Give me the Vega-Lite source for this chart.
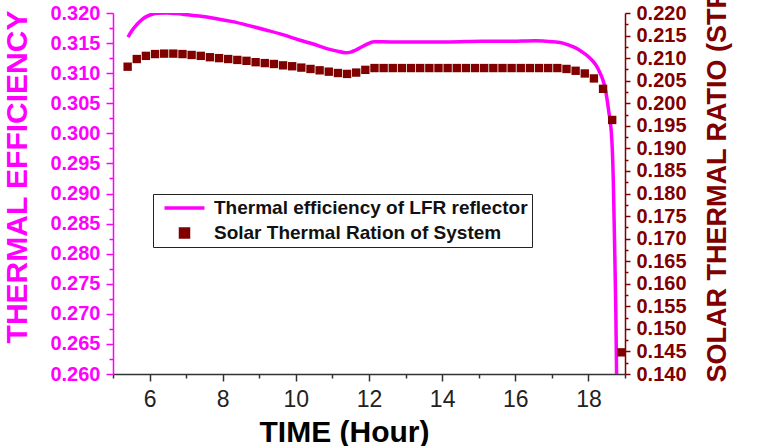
{
  "$schema": "https://vega.github.io/schema/vega-lite/v6.json",
  "width": 512,
  "height": 361,
  "autosize": {"type": "none"},
  "padding": {"left": 113, "top": 13, "right": 147, "bottom": 72},
  "background": "white",
  "config": {
    "view": {"stroke": null},
    "font": "Liberation Sans",
    "axis": {"grid": false, "labelFlush": false}
  },
  "datasets": {
    "efficiency": [
      {"time": 5.41, "eff": 0.3160, "series": "Thermal efficiency of LFR reflector"},
      {"time": 5.52, "eff": 0.3171, "series": "Thermal efficiency of LFR reflector"},
      {"time": 5.64, "eff": 0.3180, "series": "Thermal efficiency of LFR reflector"},
      {"time": 5.77, "eff": 0.3188, "series": "Thermal efficiency of LFR reflector"},
      {"time": 5.91, "eff": 0.3194, "series": "Thermal efficiency of LFR reflector"},
      {"time": 6.07, "eff": 0.3198, "series": "Thermal efficiency of LFR reflector"},
      {"time": 6.23, "eff": 0.31995, "series": "Thermal efficiency of LFR reflector"},
      {"time": 6.48, "eff": 0.3200, "series": "Thermal efficiency of LFR reflector"},
      {"time": 6.73, "eff": 0.3199, "series": "Thermal efficiency of LFR reflector"},
      {"time": 7.05, "eff": 0.3197, "series": "Thermal efficiency of LFR reflector"},
      {"time": 7.36, "eff": 0.3195, "series": "Thermal efficiency of LFR reflector"},
      {"time": 7.8, "eff": 0.3191, "series": "Thermal efficiency of LFR reflector"},
      {"time": 8.27, "eff": 0.31856, "series": "Thermal efficiency of LFR reflector"},
      {"time": 8.72, "eff": 0.3179, "series": "Thermal efficiency of LFR reflector"},
      {"time": 9.18, "eff": 0.31717, "series": "Thermal efficiency of LFR reflector"},
      {"time": 9.64, "eff": 0.3164, "series": "Thermal efficiency of LFR reflector"},
      {"time": 10.09, "eff": 0.31551, "series": "Thermal efficiency of LFR reflector"},
      {"time": 10.5, "eff": 0.3148, "series": "Thermal efficiency of LFR reflector"},
      {"time": 10.82, "eff": 0.31413, "series": "Thermal efficiency of LFR reflector"},
      {"time": 11.1, "eff": 0.3137, "series": "Thermal efficiency of LFR reflector"},
      {"time": 11.36, "eff": 0.3134, "series": "Thermal efficiency of LFR reflector"},
      {"time": 11.5, "eff": 0.3135, "series": "Thermal efficiency of LFR reflector"},
      {"time": 11.64, "eff": 0.31385, "series": "Thermal efficiency of LFR reflector"},
      {"time": 11.78, "eff": 0.3143, "series": "Thermal efficiency of LFR reflector"},
      {"time": 11.91, "eff": 0.3147, "series": "Thermal efficiency of LFR reflector"},
      {"time": 12.14, "eff": 0.31523, "series": "Thermal efficiency of LFR reflector"},
      {"time": 12.6, "eff": 0.3152, "series": "Thermal efficiency of LFR reflector"},
      {"time": 13.27, "eff": 0.3152, "series": "Thermal efficiency of LFR reflector"},
      {"time": 14.2, "eff": 0.3152, "series": "Thermal efficiency of LFR reflector"},
      {"time": 15.09, "eff": 0.3153, "series": "Thermal efficiency of LFR reflector"},
      {"time": 15.8, "eff": 0.3153, "series": "Thermal efficiency of LFR reflector"},
      {"time": 16.55, "eff": 0.3154, "series": "Thermal efficiency of LFR reflector"},
      {"time": 16.85, "eff": 0.3153, "series": "Thermal efficiency of LFR reflector"},
      {"time": 17.09, "eff": 0.3152, "series": "Thermal efficiency of LFR reflector"},
      {"time": 17.3, "eff": 0.3150, "series": "Thermal efficiency of LFR reflector"},
      {"time": 17.45, "eff": 0.3147, "series": "Thermal efficiency of LFR reflector"},
      {"time": 17.65, "eff": 0.3142, "series": "Thermal efficiency of LFR reflector"},
      {"time": 17.82, "eff": 0.31357, "series": "Thermal efficiency of LFR reflector"},
      {"time": 17.97, "eff": 0.3129, "series": "Thermal efficiency of LFR reflector"},
      {"time": 18.09, "eff": 0.3122, "series": "Thermal efficiency of LFR reflector"},
      {"time": 18.22, "eff": 0.3112, "series": "Thermal efficiency of LFR reflector"},
      {"time": 18.32, "eff": 0.3100, "series": "Thermal efficiency of LFR reflector"},
      {"time": 18.4, "eff": 0.3088, "series": "Thermal efficiency of LFR reflector"},
      {"time": 18.46, "eff": 0.3074, "series": "Thermal efficiency of LFR reflector"},
      {"time": 18.55, "eff": 0.3039, "series": "Thermal efficiency of LFR reflector"},
      {"time": 18.64, "eff": 0.2989, "series": "Thermal efficiency of LFR reflector"},
      {"time": 18.68, "eff": 0.2922, "series": "Thermal efficiency of LFR reflector"},
      {"time": 18.72, "eff": 0.2800, "series": "Thermal efficiency of LFR reflector"},
      {"time": 18.75, "eff": 0.2700, "series": "Thermal efficiency of LFR reflector"},
      {"time": 18.77, "eff": 0.2600, "series": "Thermal efficiency of LFR reflector"}
    ],
    "ratio": [
      {"time": 5.4, "str": 0.2081, "series": "Solar Thermal Ration of System"},
      {"time": 5.65, "str": 0.2098, "series": "Solar Thermal Ration of System"},
      {"time": 5.9, "str": 0.2105, "series": "Solar Thermal Ration of System"},
      {"time": 6.15, "str": 0.2109, "series": "Solar Thermal Ration of System"},
      {"time": 6.4, "str": 0.2110, "series": "Solar Thermal Ration of System"},
      {"time": 6.65, "str": 0.2110, "series": "Solar Thermal Ration of System"},
      {"time": 6.9, "str": 0.2109, "series": "Solar Thermal Ration of System"},
      {"time": 7.15, "str": 0.2107, "series": "Solar Thermal Ration of System"},
      {"time": 7.4, "str": 0.2105, "series": "Solar Thermal Ration of System"},
      {"time": 7.65, "str": 0.2102, "series": "Solar Thermal Ration of System"},
      {"time": 7.9, "str": 0.2100, "series": "Solar Thermal Ration of System"},
      {"time": 8.15, "str": 0.2098, "series": "Solar Thermal Ration of System"},
      {"time": 8.4, "str": 0.2096, "series": "Solar Thermal Ration of System"},
      {"time": 8.65, "str": 0.2094, "series": "Solar Thermal Ration of System"},
      {"time": 8.9, "str": 0.2091, "series": "Solar Thermal Ration of System"},
      {"time": 9.15, "str": 0.2089, "series": "Solar Thermal Ration of System"},
      {"time": 9.4, "str": 0.2087, "series": "Solar Thermal Ration of System"},
      {"time": 9.65, "str": 0.2084, "series": "Solar Thermal Ration of System"},
      {"time": 9.9, "str": 0.2082, "series": "Solar Thermal Ration of System"},
      {"time": 10.15, "str": 0.2079, "series": "Solar Thermal Ration of System"},
      {"time": 10.4, "str": 0.2076, "series": "Solar Thermal Ration of System"},
      {"time": 10.65, "str": 0.2073, "series": "Solar Thermal Ration of System"},
      {"time": 10.9, "str": 0.2070, "series": "Solar Thermal Ration of System"},
      {"time": 11.15, "str": 0.2067, "series": "Solar Thermal Ration of System"},
      {"time": 11.4, "str": 0.2065, "series": "Solar Thermal Ration of System"},
      {"time": 11.65, "str": 0.2068, "series": "Solar Thermal Ration of System"},
      {"time": 11.9, "str": 0.2074, "series": "Solar Thermal Ration of System"},
      {"time": 12.15, "str": 0.2078, "series": "Solar Thermal Ration of System"},
      {"time": 12.4, "str": 0.2078, "series": "Solar Thermal Ration of System"},
      {"time": 12.65, "str": 0.2078, "series": "Solar Thermal Ration of System"},
      {"time": 12.9, "str": 0.2078, "series": "Solar Thermal Ration of System"},
      {"time": 13.15, "str": 0.2078, "series": "Solar Thermal Ration of System"},
      {"time": 13.4, "str": 0.2078, "series": "Solar Thermal Ration of System"},
      {"time": 13.65, "str": 0.2078, "series": "Solar Thermal Ration of System"},
      {"time": 13.9, "str": 0.2078, "series": "Solar Thermal Ration of System"},
      {"time": 14.15, "str": 0.2078, "series": "Solar Thermal Ration of System"},
      {"time": 14.4, "str": 0.2078, "series": "Solar Thermal Ration of System"},
      {"time": 14.65, "str": 0.2078, "series": "Solar Thermal Ration of System"},
      {"time": 14.9, "str": 0.2078, "series": "Solar Thermal Ration of System"},
      {"time": 15.15, "str": 0.2078, "series": "Solar Thermal Ration of System"},
      {"time": 15.4, "str": 0.2078, "series": "Solar Thermal Ration of System"},
      {"time": 15.65, "str": 0.2078, "series": "Solar Thermal Ration of System"},
      {"time": 15.9, "str": 0.2078, "series": "Solar Thermal Ration of System"},
      {"time": 16.15, "str": 0.2078, "series": "Solar Thermal Ration of System"},
      {"time": 16.4, "str": 0.2078, "series": "Solar Thermal Ration of System"},
      {"time": 16.65, "str": 0.2078, "series": "Solar Thermal Ration of System"},
      {"time": 16.9, "str": 0.2078, "series": "Solar Thermal Ration of System"},
      {"time": 17.15, "str": 0.2078, "series": "Solar Thermal Ration of System"},
      {"time": 17.4, "str": 0.2076, "series": "Solar Thermal Ration of System"},
      {"time": 17.65, "str": 0.2072, "series": "Solar Thermal Ration of System"},
      {"time": 17.9, "str": 0.2066, "series": "Solar Thermal Ration of System"},
      {"time": 18.15, "str": 0.2055, "series": "Solar Thermal Ration of System"},
      {"time": 18.4, "str": 0.2032, "series": "Solar Thermal Ration of System"},
      {"time": 18.65, "str": 0.1963, "series": "Solar Thermal Ration of System"},
      {"time": 18.9, "str": 0.1448, "series": "Solar Thermal Ration of System"}
    ]
  },
  "encoding": {
    "x": {
      "field": "time",
      "type": "quantitative",
      "scale": {"domain": [5, 19], "nice": false, "zero": false},
      "axis": {
        "values": [5, 6, 7, 8, 9, 10, 11, 12, 13, 14, 15, 16, 17, 18, 19],
        "labelExpr": "datum.value % 2 == 0 ? format(datum.value, 'd') : ''",
        "labelOverlap": false,
        "tickSize": {"condition": {"test": "datum.value % 2 != 0", "value": 4}, "value": 7},
        "tickColor": "#333333",
        "tickWidth": 1.5,
        "domainColor": "#333333",
        "domainWidth": 1.5,
        "labelFontSize": 23,
        "labelFontWeight": "normal",
        "labelColor": "#222222",
        "labelPadding": 7,
        "title": "TIME (Hour)",
        "titleFontSize": 30,
        "titleFontWeight": "bold",
        "titleColor": "#000000",
        "titleX": 231,
        "titleY": 67,
        "titleAlign": "center",
        "titleBaseline": "alphabetic"
      }
    }
  },
  "layer": [
    {
      "data": {"name": "efficiency"},
      "mark": {"type": "line", "strokeWidth": 3.5, "interpolate": "monotone", "clip": true},
      "encoding": {
        "y": {
          "field": "eff",
          "type": "quantitative",
          "scale": {"domain": [0.26, 0.32], "nice": false, "zero": false},
          "axis": {
            "orient": "left",
            "values": [0.26, 0.2625, 0.265, 0.2675, 0.27, 0.2725, 0.275, 0.2775, 0.28, 0.2825, 0.285, 0.2875, 0.29, 0.2925, 0.295, 0.2975, 0.3, 0.3025, 0.305, 0.3075, 0.31, 0.3125, 0.315, 0.3175, 0.32],
            "labelExpr": "abs(datum.value * 200 - round(datum.value * 200)) > 0.1 ? '' : format(datum.value, '.3f')",
            "labelOverlap": false,
            "tickSize": {"condition": {"test": "abs(datum.value * 200 - round(datum.value * 200)) > 0.1", "value": 4}, "value": 7},
            "tickColor": "#FF00FF",
            "tickWidth": 1.5,
            "domainColor": "#FF00FF",
            "domainWidth": 1.5,
            "labelColor": "#FF00FF",
            "labelFontSize": 20,
            "labelFontWeight": "bold",
            "labelPadding": 6,
            "title": "THERMAL EFFICIENCY",
            "titleColor": "#FF00FF",
            "titleFontSize": 30,
            "titleFontWeight": "bold",
            "titleAngle": 270,
            "titleX": -87,
            "titleY": 163.5,
            "titleAlign": "center",
            "titleBaseline": "alphabetic"
          }
        },
        "color": {
          "field": "series",
          "type": "nominal",
          "scale": {
            "domain": ["Thermal efficiency of LFR reflector", "Solar Thermal Ration of System"],
            "range": ["#FF00FF", "#800000"]
          },
          "legend": {
            "orient": "none",
            "legendX": 40,
            "legendY": 181,
            "title": null,
            "direction": "vertical",
            "strokeColor": "#222222",
            "fillColor": "#FFFFFF",
            "padding": 4,
            "symbolSize": 1764,
            "symbolOffset": 18,
            "clipHeight": 20,
            "rowPadding": 5,
            "labelOffset": 20,
            "labelFontSize": 19,
            "labelFontWeight": "bold",
            "labelColor": "#111111",
            "labelLimit": 400,
            "encode": {
              "symbols": {
                "update": {
                  "shape": {"signal": "datum.value === 'Thermal efficiency of LFR reflector' ? 'stroke' : 'square'"},
                  "size": {"signal": "datum.value === 'Thermal efficiency of LFR reflector' ? 1600 : 64"},
                  "fill": {"signal": "datum.value === 'Thermal efficiency of LFR reflector' ? 'transparent' : '#800000'"},
                  "stroke": {"signal": "datum.value === 'Thermal efficiency of LFR reflector' ? '#FF00FF' : 'transparent'"},
                  "strokeWidth": {"value": 3.5},
                  "opacity": {"value": 1}
                }
              }
            }
          }
        }
      }
    },
    {
      "data": {"name": "ratio"},
      "mark": {"type": "point", "shape": "square", "filled": true, "size": 70, "opacity": 1},
      "encoding": {
        "y": {
          "field": "str",
          "type": "quantitative",
          "scale": {"domain": [0.14, 0.22], "nice": false, "zero": false},
          "axis": {
            "orient": "right",
            "values": [0.14, 0.1425, 0.145, 0.1475, 0.15, 0.1525, 0.155, 0.1575, 0.16, 0.1625, 0.165, 0.1675, 0.17, 0.1725, 0.175, 0.1775, 0.18, 0.1825, 0.185, 0.1875, 0.19, 0.1925, 0.195, 0.1975, 0.2, 0.2025, 0.205, 0.2075, 0.21, 0.2125, 0.215, 0.2175, 0.22],
            "labelExpr": "abs(datum.value * 200 - round(datum.value * 200)) > 0.1 ? '' : format(datum.value, '.3f')",
            "labelOverlap": false,
            "tickSize": {"condition": {"test": "abs(datum.value * 200 - round(datum.value * 200)) > 0.1", "value": 3}, "value": 5},
            "tickColor": "#800000",
            "tickWidth": 1.5,
            "domainColor": "#800000",
            "domainWidth": 1.5,
            "labelColor": "#800000",
            "labelFontSize": 20,
            "labelFontWeight": "bold",
            "labelPadding": 6,
            "title": "SOLAR THERMAL RATIO (STR)",
            "titleColor": "#800000",
            "titleFontSize": 27,
            "titleFontWeight": "bold",
            "titleAngle": 270,
            "titleX": 100,
            "titleY": 369,
            "titleAlign": "left",
            "titleBaseline": "alphabetic"
          }
        },
        "color": {"field": "series", "type": "nominal"}
      }
    }
  ],
  "resolve": {"scale": {"y": "independent"}}
}
